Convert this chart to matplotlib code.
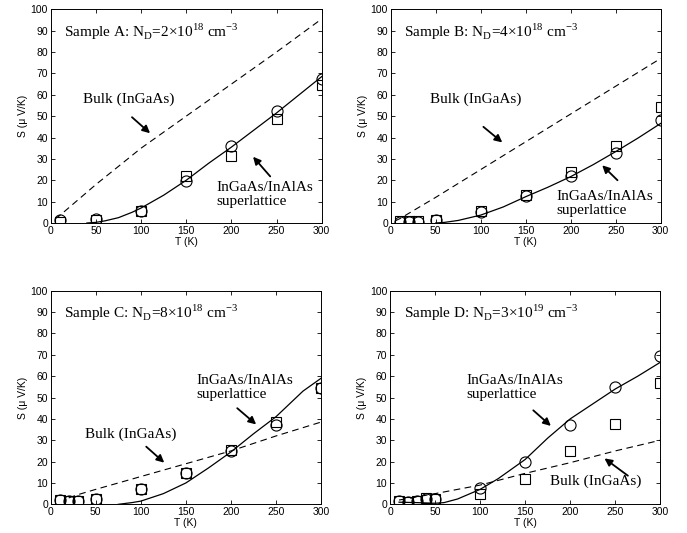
import numpy as np
import matplotlib
matplotlib.use("Agg")
import matplotlib.pyplot as plt

## 데이터 ##
T_a = [10, 50, 100, 150, 200, 250, 300]
circ_a = [1.2, 2.0, 5.5, 19.5, 35.8, 52.6, 67.6]
sq_a = [0.5, 1.5, 5.5, 22.0, 31.5, 48.8, 64.5]
bulkT_a = [5, 10, 50, 100, 150, 200, 250, 300]
bulk_a = [2.0, 3.5, 18, 35, 50, 65, 80, 95.5]
slT_a = [40, 50, 60, 75, 90, 100, 125, 150, 175, 200, 225, 250, 275, 300]
sl_a = [0, 0.3, 1, 2.5, 5, 7, 13, 20, 28, 35.5, 43.5, 51.5, 60, 68.5]

T_b = [10, 20, 30, 50, 100, 150, 200, 250, 300]
circ_b = [0.5, 0.5, 0.5, 1.5, 5.0, 12.5, 22.1, 32.7, 48.0]
sq_b = [1.0, 1.0, 1.0, 1.5, 5.5, 13.2, 23.7, 35.8, 54.2]
bulkT_b = [5, 10, 50, 100, 150, 200, 250, 300]
bulk_b = [1.0, 2.0, 12, 25, 38, 51, 64, 77]
slT_b = [50, 60, 75, 100, 125, 150, 175, 200, 225, 250, 275, 300]
sl_b = [0, 0.3, 1.2, 3.7, 7.5, 12.3, 16.8, 21.7, 27.3, 33.4, 39.8, 46.6]

T_c = [10, 20, 30, 50, 100, 150, 200, 250, 300]
circ_c = [2.0, 1.5, 1.5, 2.5, 7.0, 14.5, 25.0, 37.0, 54.5]
sq_c = [2.0, 1.5, 1.5, 2.5, 7.0, 14.5, 25.5, 38.5, 54.5]
bulkT_c = [20, 30, 50, 100, 150, 200, 250, 300]
bulk_c = [3.0, 4.5, 7, 13, 19, 25, 32, 38.5]
slT_c = [75, 90, 100, 125, 150, 175, 200, 225, 250, 280, 300]
sl_c = [0, 0.8, 1.5, 5, 10, 17, 24.5, 33, 41, 53, 59]

T_d = [10, 20, 30, 40, 50, 100, 150, 200, 250, 300]
circ_d = [1.5, 1.0, 1.5, 2.5, 2.5, 7.5, 20.0, 37.0, 55.0, 69.5]
sq_d = [1.5, 1.0, 1.5, 3.0, 2.5, 5.0, 12.0, 25.0, 37.5, 57.0]
bulkT_d = [10, 30, 50, 100, 150, 200, 250, 300]
bulk_d = [2.0, 3.5, 5, 9, 14.5, 19.5, 25, 30]
slT_d = [10, 30, 50, 60, 75, 100, 120, 150, 175, 200, 225, 250, 275, 300]
sl_d = [1.0, 0.8, 0.5, 0.8, 2.5, 7, 12, 21, 31, 40, 47, 54, 60, 66.5]

labels = ["Sample A: N$_\\mathregular{D}$=2\u00d710$^{\\mathregular{18}}$ cm$^{\\mathregular{-3}}$",
          "Sample B: N$_\\mathregular{D}$=4\u00d710$^{\\mathregular{18}}$ cm$^{\\mathregular{-3}}$",
          "Sample C: N$_\\mathregular{D}$=8\u00d710$^{\\mathregular{18}}$ cm$^{\\mathregular{-3}}$",
          "Sample D: N$_\\mathregular{D}$=3\u00d710$^{\\mathregular{19}}$ cm$^{\\mathregular{-3}}$"]

panels = [
    (T_a, circ_a, sq_a, bulkT_a, bulk_a, slT_a, sl_a),
    (T_b, circ_b, sq_b, bulkT_b, bulk_b, slT_b, sl_b),
    (T_c, circ_c, sq_c, bulkT_c, bulk_c, slT_c, sl_c),
    (T_d, circ_d, sq_d, bulkT_d, bulk_d, slT_d, sl_d),
]

# 텍스트 / 화살표 위치 (data coords) #
bulk_txt = [(36, 58), (44, 58), (38, 33), (178, 11)]
bulk_arr = [((90, 49.5), (110, 42)), ((103, 45), (124, 37.7)),
            ((106, 27), (126, 19.5)), ((264, 13.4), (238, 21.5))]
sl_txt = [(183, 13.5), (184.5, 9), (162, 54.8), (85, 54.8)]
sl_arr = [((243, 21.8), (224, 31)), ((252, 20), (235, 27)),
          ((207, 45), (228, 37.4)), ((159, 44), (178.5, 36.7))]

rects = [[0.0738, 0.5816, 0.3945, 0.401], [0.5687, 0.5816, 0.393, 0.401],
         [0.0738, 0.0538, 0.3935, 0.4008], [0.5677, 0.0538, 0.3935, 0.4008]]

fig = plt.figure(figsize=(6.87, 5.33), dpi=100)
serif = "Liberation Serif"
sans = "Liberation Sans"

for i, (T, ci, sq, bT, bS, sT, sS) in enumerate(panels):
    ax = fig.add_axes(rects[i])
    ax.plot(bT, bS, 'k--', lw=0.8, dashes=(6, 4))
    ax.plot(sT, sS, 'k-', lw=0.9)
    ax.plot(T, ci, 'o', mfc='none', mec='k', ms=8, mew=0.8)
    ax.plot(T, sq, 's', mfc='none', mec='k', ms=7.5, mew=0.8)
    ax.set_xlim(0, 300)
    ax.set_ylim(0, 100)
    ax.set_xticks(np.arange(0, 301, 50))
    ax.set_yticks(np.arange(0, 101, 10))
    ax.tick_params(direction='in', top=True, right=True, length=3, width=0.6,
                   labelsize=7.5, pad=2)
    for lab in ax.get_xticklabels() + ax.get_yticklabels():
        lab.set_fontfamily(sans)
    for s in ax.spines.values():
        s.set_linewidth(0.7)
    ax.set_xlabel("T (K)", fontsize=7.5, family=sans, labelpad=1)
    ax.set_ylabel("S (\u03bc V/K)", fontsize=7.5, family=sans, labelpad=2)

    ax.text(15, 89.5, labels[i], fontsize=11, family=serif, va='center', ha='left')
    ax.text(bulk_txt[i][0], bulk_txt[i][1], "Bulk (InGaAs)", fontsize=11,
            family=serif, va='center', ha='left')
    ax.text(sl_txt[i][0], sl_txt[i][1], "InGaAs/InAlAs\nsuperlattice", fontsize=11,
            family=serif, va='center', ha='left', linespacing=1.1)
    for (p0, p1) in [bulk_arr[i], sl_arr[i]]:
        ax.annotate("", xy=p1, xytext=p0,
                    arrowprops=dict(arrowstyle='-|>', color='k', lw=1.3,
                                    mutation_scale=11, shrinkA=0, shrinkB=0))

plt.savefig("out.png", dpi=100)
